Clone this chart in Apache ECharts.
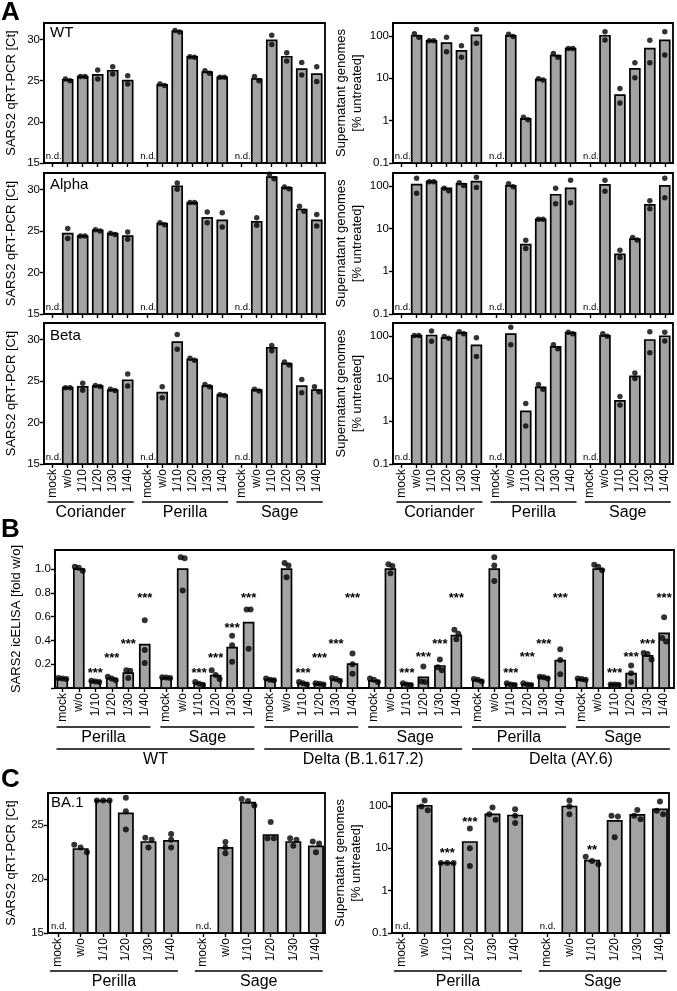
<!DOCTYPE html>
<html><head><meta charset="utf-8">
<script src="https://cdn.jsdelivr.net/npm/echarts/dist/echarts.min.js"></script>
<style>html,body{margin:0;padding:0;background:#fff}#c{width:677px;height:991px}</style>
</head><body><div id="c"></div>
<script>
// ---------------- DATA ----------------
const cats = ['mock','w/o','1/10','1/20','1/30','1/40'];
const herbsA = ['Coriander','Perilla','Sage'];
const herbsBC = ['Perilla','Sage'];
const variantsB = ['WT','Delta (B.1.617.2)','Delta (AY.6)'];
const ctTicksA = [15,20,25,30];
const ctTicksC = [15,20,25];
const logTicks = [0.1,1,10,100];
const elisaTicks = [0,0.2,0.4,0.6,0.8,1.0];
const elisaLabels = [0.2,0.4,0.6,0.8,1.0];

// Panel A, qRT-PCR Ct (left column)
const wtCtBar = [null,25.1,25.5,25.7,26.2,25.0, null,24.5,31.0,27.9,26.05,25.4, null,25.2,29.9,27.9,26.4,25.8];
const wtCtRep = [[],[25.2,25.0],[25.5,25.5],[26.3,25.2],[26.7,25.8],[25.6,24.6], [],[24.6,24.4],[31.1,30.9],[27.9,27.85],[26.2,25.9],[25.4,25.4], [],[25.5,25.0],[30.5,29.4],[28.4,27.4],[27.2,25.7],[26.7,24.9]];
const alphaCtBar = [null,24.7,24.4,25.1,24.7,24.4, null,25.9,30.4,28.4,26.6,26.3, null,26.1,31.5,30.2,27.6,26.3];
const alphaCtRep = [[],[25.3,24.1],[24.4,24.4],[25.15,25.0],[24.75,24.6],[24.9,24.0], [],[26.0,25.75],[30.8,30.05],[28.45,28.45],[27.3,26.0],[27.2,25.5], [],[26.6,25.7],[31.85,31.3],[30.3,30.1],[28.0,27.4],[27.0,25.6]];
const betaCtBar = [null,24.2,24.3,24.4,23.9,25.1, null,23.6,29.7,27.6,24.4,23.3, null,23.9,29.0,27.1,24.4,23.9];
const betaCtRep = [[],[24.2,24.2],[24.75,23.9],[24.45,24.35],[24.0,23.85],[25.85,24.4], [],[24.3,23.0],[30.6,28.85],[27.75,27.5],[24.6,24.3],[23.35,23.25], [],[24.0,23.8],[29.3,28.65],[27.3,26.95],[25.2,23.6],[24.3,23.7]];

// Panel A, supernatant genomes % untreated (right column)
const wtGenBar = [null,100,76,67,44,102, null,100,1.1,9.3,34,50, null,100,4.0,16.5,50,78];
const wtGenRep = [[],[112,92],[76,76],[92,42],[58,31],[140,67], [],[108,96],[1.2,1.05],[9.7,9.0],[38,31],[50,50], [],[125,80],[5.7,2.6],[23,10.2],[78,23],[125,35]];
const alphaGenBar = [null,107,125,88,112,125, null,100,4.2,16.5,62,87, null,105,2.5,5.7,36,100];
const alphaGenRep = [[],[150,67],[125,125],[88,77],[118,102],[160,92], [],[112,95],[5.3,3.4],[16.5,16.5],[88,38],[135,40], [],[135,75],[3.1,2.1],[6.2,5.4],[45,29],[150,53]];
const betaGenBar = [null,100,102,90,118,60, null,110,1.7,6.2,55,118, null,100,3.0,11.3,80,98];
const betaGenRep = [[],[102,102],[130,75],[97,88],[125,112],[90,33], [],[160,62],[2.6,0.78],[7.3,5.6],[62,50],[122,112], [],[112,98],[3.8,2.4],[13.5,10],[125,40],[122,76]];

// Panel B, icELISA fold w/o
const elisaBar = [0.08,1.0,0.055,0.08,0.125,0.365, 0.085,1.0,0.04,0.105,0.34,0.55, 0.07,1.0,0.04,0.035,0.07,0.2, 0.06,1.0,0.035,0.09,0.185,0.44, 0.065,1.0,0.035,0.03,0.09,0.23, 0.07,1.0,0.03,0.12,0.27,0.46];
const elisaRep = [
  [0.085,0.08,0.075],[1.02,1.01,0.985],[0.06,0.055,0.05],[0.095,0.08,0.065],[0.15,0.145,0.085],[0.57,0.32,0.21],
  [0.09,0.088,0.085],[1.10,1.09,0.82],[0.05,0.035,0.025],[0.15,0.11,0.075],[0.44,0.36,0.22],[0.66,0.66,0.33],
  [0.08,0.07,0.065],[1.05,1.03,0.93],[0.05,0.04,0.03],[0.04,0.035,0.03],[0.085,0.075,0.06],[0.29,0.2,0.12],
  [0.08,0.07,0.05],[1.04,1.025,0.965],[0.04,0.03,0.025],[0.18,0.055,0.05],[0.24,0.175,0.15],[0.49,0.455,0.41],
  [0.075,0.07,0.055],[1.10,1.03,0.90],[0.04,0.03,0.025],[0.04,0.03,0.025],[0.095,0.09,0.08],[0.325,0.235,0.115],
  [0.08,0.075,0.07],[1.035,1.02,0.99],[0.03,0.03,0.028],[0.19,0.125,0.05],[0.295,0.285,0.24],[0.595,0.42,0.39]
];
const elisaStarLevel = [null,null,0.15,0.27,0.39,0.78, null,null,0.15,0.27,0.53,0.78, null,null,0.15,0.27,0.39,0.78, null,null,0.15,0.28,0.39,0.78, null,null,0.15,0.28,0.39,0.78, null,null,0.15,0.28,0.39,0.78];
const elisaStarText = ['','','***','***','***','***', '','','***','***','***','***', '','','***','***','***','***', '','','***','***','***','***', '','','***','***','***','***', '','','***','***','***','***'];

// Panel C, BA.1
const baCtBar = [null,22.8,27.3,26.1,23.45,23.55, null,22.9,27.1,24.1,23.45,23.05];
const baCtRep = [[],[23.2,22.95,22.5],[27.3,27.3,27.3],[27.55,26.3,24.6],[23.85,23.65,22.95],[24.2,23.65,22.95], [],[23.45,22.95,22.4],[27.45,27.25,26.85],[25.3,23.8,23.8],[23.8,23.65,23.1],[23.5,23.3,22.5]];
const baGenBar = [null,100,4.5,14,63,59, null,96,5.1,44,61,82];
const baGenRep = [[],[134,96,78],[4.5,4.5,4.5],[29,10,3.8],[91,63,47],[83,58,39], [],[134,96,63],[6.3,5.0,4.2],[58,56,18],[80,58,48],[126,76,63]];
const baGenStarLevel = [null,null,9,48,null,null, null,null,10.3,null,null,null];
const baGenStarText = ['','','***','***','','', '','','**','','',''];

// ---------------- BUILD ----------------
const FONT = '"Liberation Sans", Arial, Helvetica, sans-serif';
const GRAY = '#a3a3a3';

function positions(nGroups, gap) {
  const xs = [];
  for (let g = 0; g < nGroups; g++) for (let i = 0; i < 6; i++) xs.push(+(g * gap + i).toFixed(4));
  return xs;
}
const xsA = positions(3, 6.3);
const xsB = positions(6, 6.3);
const xsC = positions(2, 6.4);

function spread(vals, thresh, step, isLog) {
  const t = vals.map(v => isLog ? Math.log10(v) : v);
  const idx = t.map((_, i) => i).sort((a, b) => t[b] - t[a]);
  const off = new Array(vals.length).fill(0);
  let cl = [idx[0]];
  const flush = () => { const n = cl.length; cl.forEach((id, j) => off[id] = (j - (n - 1) / 2) * step); };
  for (let m = 1; m < idx.length; m++) {
    if (t[cl[cl.length - 1]] - t[idx[m]] < thresh) cl.push(idx[m]);
    else { flush(); cl = [idx[m]]; }
  }
  flush();
  return off;
}

const grids = [], xAxes = [], yAxes = [], series = [];

function addPanel(p) {
  const k = grids.length;
  const isLog = p.yType === 'log';
  grids.push({left: p.left, top: p.top, width: p.width, height: p.height, show: true,
    borderColor: '#000', borderWidth: 1.8, backgroundColor: 'transparent'});
  xAxes.push({gridIndex: k, type: 'value', min: p.xMin, max: p.xMax,
    axisLine: {show: true, onZero: false, lineStyle: {color: '#000', width: 1.8}},
    axisTick: {show: true, customValues: p.xs, length: 4, lineStyle: {color: '#000', width: 1.4}},
    axisLabel: {show: !!p.showX, customValues: p.xs, rotate: 90, margin: 5, fontSize: 12, color: '#000', fontFamily: FONT,
      formatter: v => { const i = p.xs.findIndex(x => Math.abs(x - v) < 1e-6); return i < 0 ? '' : cats[i % 6]; }},
    splitLine: {show: false}});
  const ya = {gridIndex: k, type: p.yType, min: p.yMin, max: p.yMax,
    axisLine: {show: true, onZero: false, lineStyle: {color: '#000', width: 1.8}},
    axisTick: {show: true, customValues: p.yTicks, length: 4, lineStyle: {color: '#000', width: 1.4}},
    axisLabel: {customValues: p.yLabels || p.yTicks, margin: 4, fontSize: 11.5, color: '#000', fontFamily: FONT, formatter: p.yFmt},
    splitLine: {show: false},
    name: p.yName, nameLocation: 'middle', nameGap: p.nameGap,
    nameTextStyle: {fontSize: 13, color: '#000', fontFamily: FONT, lineHeight: 16}};
  if (isLog) ya.logBase = 10;
  yAxes.push(ya);

  const bw = p.barW;
  const barData = [];
  p.xs.forEach((x, i) => { if (p.bars[i] != null) barData.push([x, p.bars[i]]); });
  series.push({type: 'custom', xAxisIndex: k, yAxisIndex: k, data: barData, z: 2, silent: true,
    renderItem: (prm, api) => {
      const x = api.value(0), v = api.value(1);
      const a = api.coord([x - bw / 2, p.yMin]);
      const b = api.coord([x + bw / 2, v]);
      return {type: 'rect', shape: {x: a[0], y: b[1], width: b[0] - a[0], height: a[1] - b[1]},
        style: {fill: GRAY, stroke: '#000', lineWidth: 1.7}};
    }});

  const dots = [];
  p.xs.forEach((x, i) => {
    const r = p.reps[i];
    if (!r || !r.length) return;
    const off = spread(r, p.thresh, p.step, isLog);
    r.forEach((v, j) => dots.push([x + off[j], v]));
  });
  series.push({type: 'scatter', xAxisIndex: k, yAxisIndex: k, data: dots, symbol: 'circle',
    symbolSize: p.dot, itemStyle: {color: '#000'}, z: 4, silent: true});

  const nd = [];
  p.xs.forEach((x, i) => { if (p.bars[i] == null) nd.push([x, p.yMin]); });
  if (nd.length) series.push({type: 'custom', xAxisIndex: k, yAxisIndex: k, data: nd, z: 5, silent: true,
    renderItem: (prm, api) => {
      const c = api.coord([api.value(0), api.value(1)]);
      return {type: 'text', x: c[0] + 1, y: c[1] - 1.5,
        style: {text: 'n.d.', fill: '#000', font: '9.5px ' + FONT, align: 'center', verticalAlign: 'bottom'}};
    }});

  if (p.stars) {
    const sd = [], st = [];
    p.xs.forEach((x, i) => { if (p.stars[i] != null) { sd.push([x, p.stars[i]]); st.push(p.starText[i]); } });
    series.push({type: 'custom', xAxisIndex: k, yAxisIndex: k, data: sd, z: 5, silent: true,
      renderItem: (prm, api) => {
        const c = api.coord([api.value(0), api.value(1)]);
        return {type: 'text', x: c[0], y: c[1] + 3,
          style: {text: st[prm.dataIndex], fill: '#000', font: 'bold 13px ' + FONT, align: 'center', verticalAlign: 'middle'}};
      }});
  }

  if (p.annot) {
    const items = p.annot;
    series.push({type: 'custom', xAxisIndex: k, yAxisIndex: k, clip: false, z: 5, silent: true,
      data: items.map(it => [it.x0, p.yMin]),
      renderItem: (prm, api) => {
        const it = items[prm.dataIndex];
        const a = api.coord([it.x0, p.yMin]);
        const b = api.coord([it.x1, p.yMin]);
        const y = a[1];
        return {type: 'group', children: [
          {type: 'line', shape: {x1: a[0], y1: y + it.lineOff, x2: b[0], y2: y + it.lineOff},
            style: {stroke: '#000', lineWidth: 1.5}},
          {type: 'text', x: (a[0] + b[0]) / 2, y: y + it.textOff,
            style: {text: it.text, fill: '#000', font: '16px ' + FONT, align: 'center', verticalAlign: 'middle'}}
        ]};
      }});
  }
}

const ctFmt = v => String(Math.round(v));
const logFmt = v => v < 1 ? String(+v.toFixed(1)) : String(Math.round(v));
const elFmt = v => v.toFixed(1);

function herbAnnot(xs, names, lo, hi, lineOff, textOff) {
  return names.map((n, g) => ({x0: xs[g * 6] - lo, x1: xs[g * 6 + 5] + hi, text: n, lineOff, textOff}));
}

const A_ROWS = [
  {top: 23, height: 140, ct: [wtCtBar, wtCtRep], gen: [wtGenBar, wtGenRep]},
  {top: 173, height: 141, ct: [alphaCtBar, alphaCtRep], gen: [alphaGenBar, alphaGenRep]},
  {top: 323, height: 141, ct: [betaCtBar, betaCtRep], gen: [betaGenBar, betaGenRep]}
];
A_ROWS.forEach((r, ri) => {
  const last = ri === 2;
  addPanel({left: 44, top: r.top, width: 281, height: r.height, xMin: -0.58, xMax: 18.15, xs: xsA, showX: last,
    yType: 'value', yMin: 15, yMax: 32, yTicks: ctTicksA, yFmt: ctFmt,
    yName: 'SARS2 qRT-PCR [Ct]', nameGap: 25, bars: r.ct[0], reps: r.ct[1],
    barW: 0.66, dot: 5.5, step: 0.3, thresh: 0.65,
    annot: last ? herbAnnot(xsA, herbsA, 0.35, 0.4, 38, 49) : null});
  addPanel({left: 393, top: r.top, width: 280, height: r.height, xMin: -0.58, xMax: 18.15, xs: xsA, showX: last,
    yType: 'log', yMin: 0.1, yMax: 200, yTicks: logTicks, yFmt: logFmt,
    yName: 'Supernatant genomes\n[% untreated]', nameGap: 22, bars: r.gen[0], reps: r.gen[1],
    barW: 0.66, dot: 5.5, step: 0.3, thresh: 0.13,
    annot: last ? herbAnnot(xsA, herbsA, 0.35, 0.4, 38, 49) : null});
});

const bAnnot = herbAnnot(xsB, [0,1,2,3,4,5].map(g => herbsBC[g % 2]), 0.35, 0.35, 39, 50)
  .concat(variantsB.map((n, v) => ({x0: xsB[v * 12] - 0.35, x1: xsB[v * 12 + 11] + 0.35, text: n, lineOff: 61, textOff: 72})));
addPanel({left: 47, top: 550, width: 627, height: 138, xMin: -0.45, xMax: 37.1, xs: xsB, showX: true,
  yType: 'value', yMin: 0, yMax: 1.16, yTicks: elisaTicks, yLabels: elisaLabels, yFmt: elFmt,
  yName: 'SARS2 icELISA [fold w/o]', nameGap: 28, bars: elisaBar, reps: elisaRep,
  barW: 0.6, dot: 6, step: 0.24, thresh: 0.045,
  stars: elisaStarLevel, starText: elisaStarText, annot: bAnnot});

addPanel({left: 48, top: 793, width: 277, height: 140, xMin: -0.44, xMax: 11.8, xs: xsC, showX: true,
  yType: 'value', yMin: 15, yMax: 28, yTicks: ctTicksC, yFmt: ctFmt,
  yName: 'SARS2 qRT-PCR [Ct]', nameGap: 29, bars: baCtBar, reps: baCtRep,
  barW: 0.63, dot: 6, step: 0.28, thresh: 0.5,
  annot: herbAnnot(xsC, herbsBC, 0.35, 0.3, 38, 49)});
addPanel({left: 392, top: 793, width: 277, height: 140, xMin: -0.44, xMax: 11.8, xs: xsC, showX: true,
  yType: 'log', yMin: 0.1, yMax: 200, yTicks: logTicks, yFmt: logFmt,
  yName: 'Supernatant genomes\n[% untreated]', nameGap: 21, bars: baGenBar, reps: baGenRep,
  barW: 0.63, dot: 6, step: 0.28, thresh: 0.13,
  stars: baGenStarLevel, starText: baGenStarText,
  annot: herbAnnot(xsC, herbsBC, 0.35, 0.3, 38, 49)});

const tStyle = (fs, bold) => ({fontSize: fs, fontWeight: bold ? 'bold' : 'normal', color: '#000', fontFamily: FONT});
const titles = [
  {text: 'A', left: 1, top: 0, padding: 0, textStyle: tStyle(26, true)},
  {text: 'B', left: 1, top: 517, padding: 0, textStyle: tStyle(26, true)},
  {text: 'C', left: 1, top: 767, padding: 0, textStyle: tStyle(26, true)},
  {text: 'WT', left: 50, top: 25, padding: 0, textStyle: tStyle(15)},
  {text: 'Alpha', left: 50, top: 177, padding: 0, textStyle: tStyle(15)},
  {text: 'Beta', left: 50, top: 328, padding: 0, textStyle: tStyle(15)},
  {text: 'BA.1', left: 51, top: 795, padding: 0, textStyle: tStyle(15)}
];

const chart = echarts.init(document.getElementById('c'), null, {renderer: 'canvas'});
chart.setOption({
  animation: false,
  backgroundColor: '#fff',
  title: titles,
  grid: grids, xAxis: xAxes, yAxis: yAxes, series: series
});
</script></body></html>
